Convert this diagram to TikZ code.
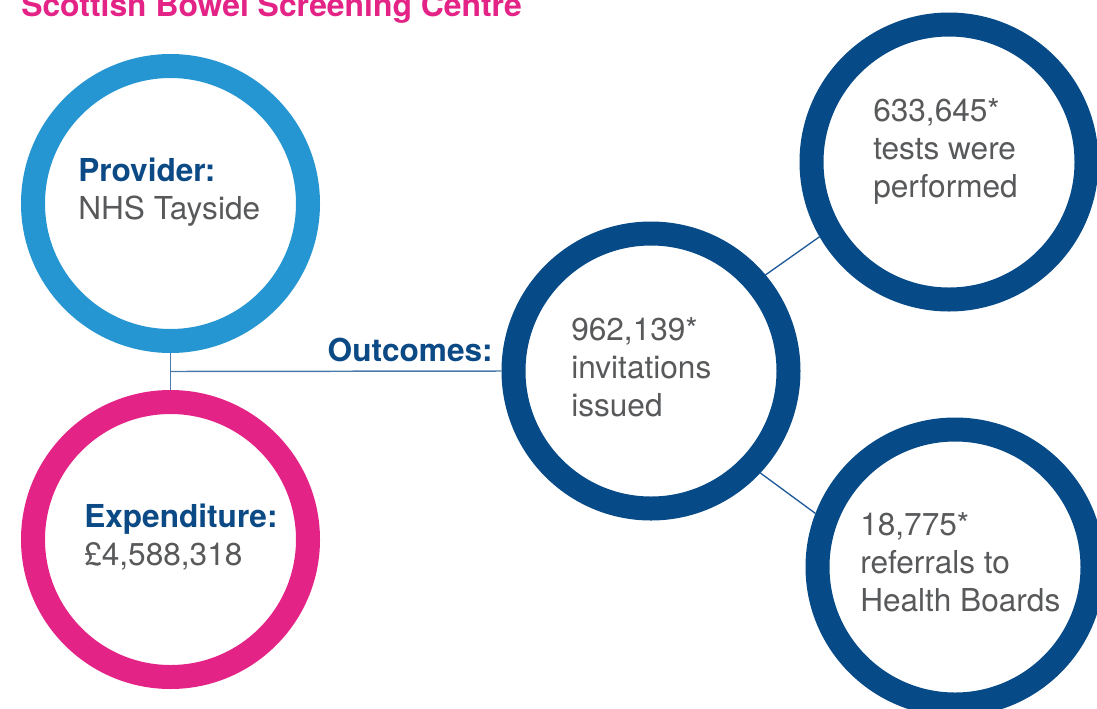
\documentclass[tikz,border=0pt]{standalone}
\usepackage{fontspec}
\setmainfont{TeX Gyre Heros}
\usepackage{xcolor}
\usepackage{tikz}
\usetikzlibrary{positioning, calc}

\definecolor{ringlight}{HTML}{2596D2}
\definecolor{ringpink}{HTML}{E42387}
\definecolor{ringdark}{HTML}{064A87}
\definecolor{headblue}{HTML}{0C4A86}
\definecolor{bodygrey}{HTML}{58595B}
\definecolor{linkblue}{HTML}{4A7AAA}
\definecolor{spokeblue}{HTML}{1E5A99}

\begin{document}
\begin{tikzpicture}[
    x=0.75pt, y=-0.75pt,
    ring/.style={circle, draw=#1, line width=18pt, minimum size=206.25pt, inner sep=0pt},
    txt/.style={inner sep=0pt, align=left, anchor=base west, text=bodygrey,
        font=\fontsize{23.7pt}{28.5pt}\selectfont},
    head/.style={text=headblue, font=\fontsize{23.7pt}{28.5pt}\selectfont\bfseries},
    link/.style={draw=linkblue, line width=1.1pt},
    spoke/.style={draw=spokeblue, line width=1pt}
]
\useasboundingbox (0,0) rectangle (1097,708);

% Title
\node[inner sep=0pt, anchor=base west, text=ringpink,
    font=\fontsize{23.9pt}{28pt}\selectfont\bfseries] (title) at (21,16.8)
    {Scottish Bowel Screening Centre};

% Provider
\node[ring=ringlight] (prov) at (170.5,203.5) {};
\node[txt] (provtxt) at (78,219) {{\bfseries\color{headblue}Provider:}\\NHS Tayside};

% Expenditure
\node[ring=ringpink] (exp) at (170.5,539.5) {};
\node[txt] (exptxt) at (84,565) {{\bfseries\color{headblue}Expenditure:}\\\pounds4,588,318};

% Invitations
\node[ring=ringdark] (inv) at (651,371) {};
\node[txt] (invtxt) at (571,416) {962,139*\\invitations\\issued};

% Tests
\node[ring=ringdark] (tests) at (949,162) {};
\node[txt] (teststxt) at (873,197) {633,645*\\tests were\\performed};

% Referrals
\node[ring=ringdark] (refs) at (955,567) {};
\node[txt] (refstxt) at (860,611) {18,775*\\referrals to\\Health Boards};

% Links
\draw[link] (prov.south) -- coordinate[midway] (fork) (exp.north);
\draw[link] (fork) -- (inv.west);
\node[head, inner sep=0pt, anchor=base east] (outc) at (493,361.7) {Outcomes:};
\draw[spoke] (inv.40) -- (tests.210);
\draw[spoke] (inv.317) -- (refs.159);

\end{tikzpicture}
\end{document}
